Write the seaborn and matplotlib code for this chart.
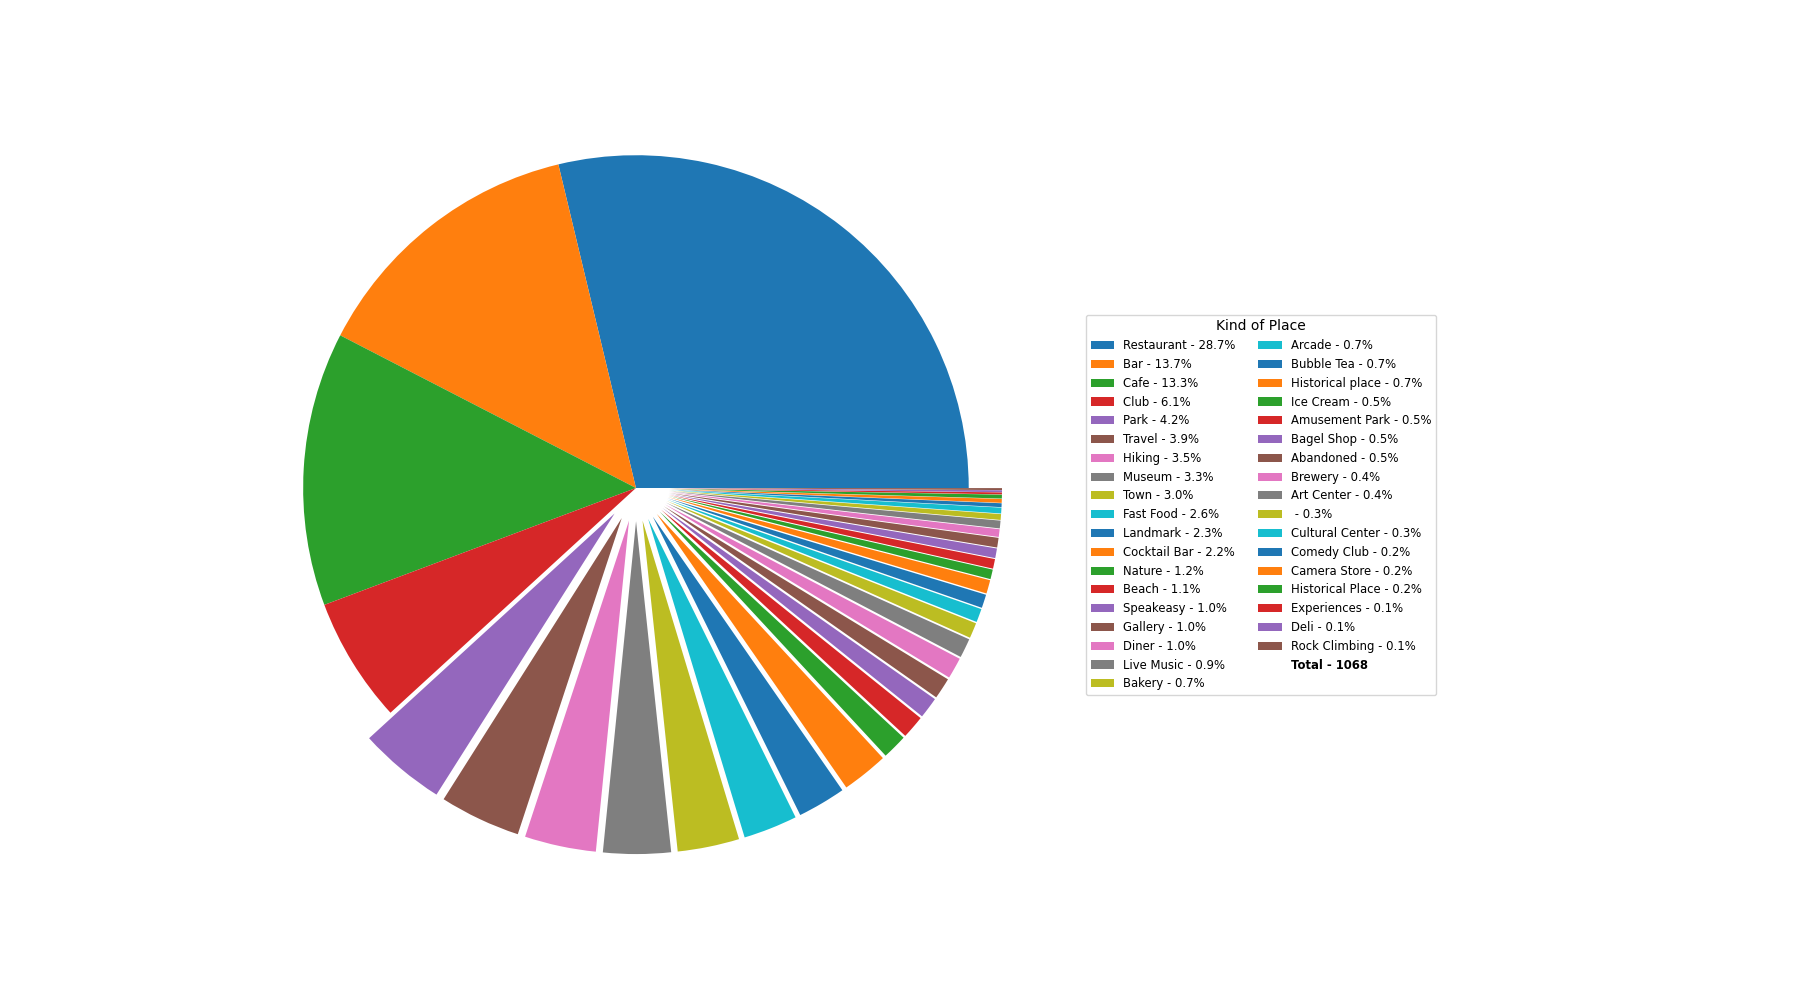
import matplotlib
matplotlib.use("Agg")
from matplotlib import pyplot as plt
from matplotlib.patches import Patch
import seaborn as sns

places = ["Restaurant", "Bar", "Cafe", "Club", "Park", "Travel", "Hiking", "Museum",
          "Town", "Fast Food", "Landmark", "Cocktail Bar", "Nature", "Beach", "Speakeasy",
          "Gallery", "Diner", "Live Music", "Bakery", "Arcade", "Bubble Tea",
          "Historical place", "Ice Cream", "Amusement Park", "Bagel Shop", "Abandoned",
          "Brewery", "Art Center", "", "Cultural Center", "Comedy Club", "Camera Store",
          "Historical Place", "Experiences", "Deli", "Rock Climbing"]
counts = [307, 146, 142, 65, 45, 42, 37, 35, 32, 28, 25, 24, 13, 12, 11, 11, 11, 10,
          8, 7, 7, 7, 5, 5, 5, 5, 4, 4, 3, 3, 2, 2, 2, 1, 1, 1]

total = sum(counts)
colors = sns.color_palette("tab10", 10)
colors = [colors[i % 10] for i in range(len(counts))]
explode = [0 if i < 4 else 0.1 for i in range(len(counts))]

fig = plt.figure(figsize=(18, 10), dpi=100)
ax = fig.add_axes([0.1222, 0.096, 0.4622, 0.832])
wedges, _ = ax.pie(counts, colors=colors, explode=explode)

labels = ["%s - %.1f%%" % (p, c / total * 100) for p, c in zip(places, counts)]
handles = list(wedges) + [Patch(visible=False)]
labels = labels + ["Total - %d" % total]

leg = fig.legend(handles, labels, title="Kind of Place", ncol=2, fontsize="small",
                 loc="upper left", bbox_to_anchor=(0.6033, 0.6852),
                 bbox_transform=fig.transFigure, borderaxespad=0)
leg.get_texts()[-1].set_fontweight("bold")

plt.savefig("out.png")
